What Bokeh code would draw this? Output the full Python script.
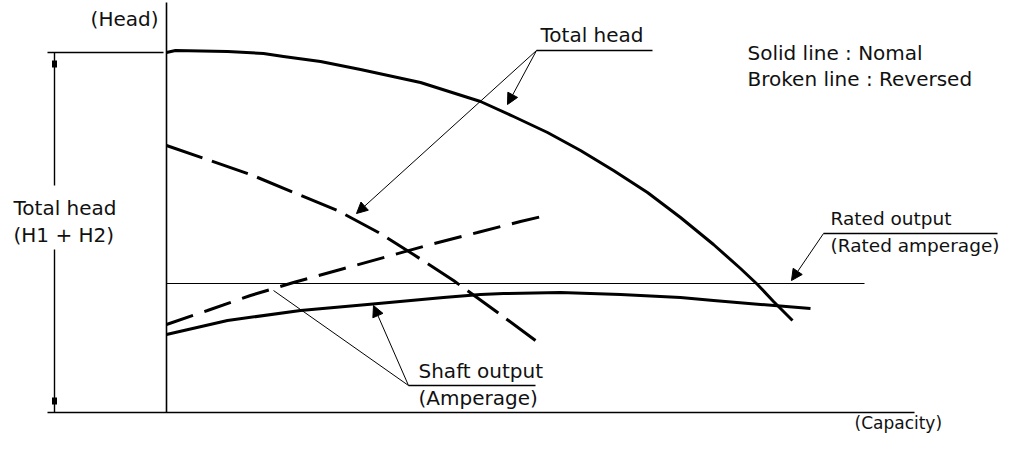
from bokeh.plotting import figure
from bokeh.models import Range1d, Arrow, NormalHead
from bokeh.core.properties import value
from bokeh.embed import file_html
from bokeh.resources import INLINE

# ---- data (schematic units: capacity along x, head along y) ----
head_normal_q = [0, 9, 61, 97, 117, 154, 194, 254, 314, 347, 381, 414, 447, 481, 514, 547, 574, 591, 607, 626]
head_normal_h = [360, 362, 361, 359, 356, 351, 343, 330, 311, 296, 280, 262, 242, 220, 195, 168, 144, 128, 111, 92]

head_rev_q = [0, 84, 127, 171, 212, 247, 287, 327, 369]
head_rev_h = [267, 238, 220, 202, 180, 158, 132, 103, 72]

shaft_normal_q = [0, 61, 134, 201, 277, 314, 337, 394, 454, 514, 547, 594, 644]
shaft_normal_p = [78, 92, 102, 108, 115, 118, 119, 120, 118, 115, 112, 108, 104]

shaft_rev_q = [0, 41, 84, 127, 174, 221, 264, 311, 354, 384]
shaft_rev_p = [88, 102, 117, 130, 143, 156, 168, 180, 191, 198]

rated_level = 129
rated_q_end = 698
total_head_top = 360
axis_q_end = 748
axis_h_end = 410

FONT = value("DejaVu Sans")
FS = "20px"
TXT = "#111111"

p = figure(width=999, height=433, x_range=Range1d(-166, 833), y_range=Range1d(-21, 412),
           output_backend="svg", toolbar_location=None, min_border=0,
           x_axis_location=None, y_axis_location=None)
p.grid.visible = False
p.outline_line_color = None
p.background_fill_color = "white"
p.border_fill_color = "white"

# axes
p.line([0, 0], [0, axis_h_end], line_color="black", line_width=1.6)
p.line([-119, axis_q_end], [0, 0], line_color="black", line_width=1.6)
p.line([-119, -3], [total_head_top, total_head_top], line_color="black", line_width=1.4)

# dimension line for total head
p.line([-112, -112], [227, total_head_top], line_color="black", line_width=1.4)
p.line([-112, -112], [0, 163], line_color="black", line_width=1.4)
p.quad(left=[-114.5, -114.5], right=[-109.5, -109.5], bottom=[345, 8], top=[352, 15],
       fill_color="black", line_color=None)

# rated output line
p.line([0, rated_q_end], [rated_level, rated_level], line_color="black", line_width=1.2)

# curves
p.line(head_normal_q, head_normal_h, line_color="black", line_width=3, line_join="round")
p.line(head_rev_q, head_rev_h, line_color="black", line_width=3, line_dash="38 10")
p.line(shaft_normal_q, shaft_normal_p, line_color="black", line_width=3, line_join="round")
p.line(shaft_rev_q, shaft_rev_p, line_color="black", line_width=3, line_dash="28 12")

# label underlines
p.line([370, 486], [362, 362], line_color="black", line_width=1.4)
p.line([657, 831], [179, 179], line_color="black", line_width=1.4)
p.line([242, 369], [27, 27], line_color="black", line_width=1.4)

# leaders
def leader(x0, y0, x1, y1, head=True):
    if head:
        p.add_layout(Arrow(x_start=x0, y_start=y0, x_end=x1, y_end=y1, line_width=1,
                           line_color="black",
                           end=NormalHead(size=11, fill_color="black", line_color="black",
                                          line_width=1)))
    else:
        p.line([x0, x1], [y0, y1], line_color="black", line_width=1)

leader(370, 362, 341, 308)
leader(370, 362, 190, 199)
leader(657, 179, 625, 132)
leader(242, 27, 107, 122, head=False)
leader(242, 27, 207, 107)

# texts
p.text(x=[-153, -153, 374, 581, 581, 252, 252],
       y=[205, 178, 378, 360, 334, 42, 15],
       text=["Total head", "(H1 + H2)", "Total head", "Solid line : Nomal",
             "Broken line : Reversed", "Shaft output", "(Amperage)"],
       text_font=FONT, text_font_size=FS, text_color=TXT,
       text_baseline="middle", text_align="left")
p.text(x=[664, 664], y=[194, 167], text=["Rated output", "(Rated amperage)"],
       text_font=FONT, text_font_size="18.5px", text_color=TXT,
       text_baseline="middle", text_align="left")
p.text(x=[688], y=[-10], text=["(Capacity)"], text_font=FONT, text_font_size="17px",
       text_color=TXT, text_baseline="middle", text_align="left")
p.text(x=[-8], y=[394], text=["(Head)"], text_font=FONT, text_font_size=FS,
       text_color=TXT, text_baseline="middle", text_align="right")

open("out.html", "w").write(file_html(p, INLINE))
